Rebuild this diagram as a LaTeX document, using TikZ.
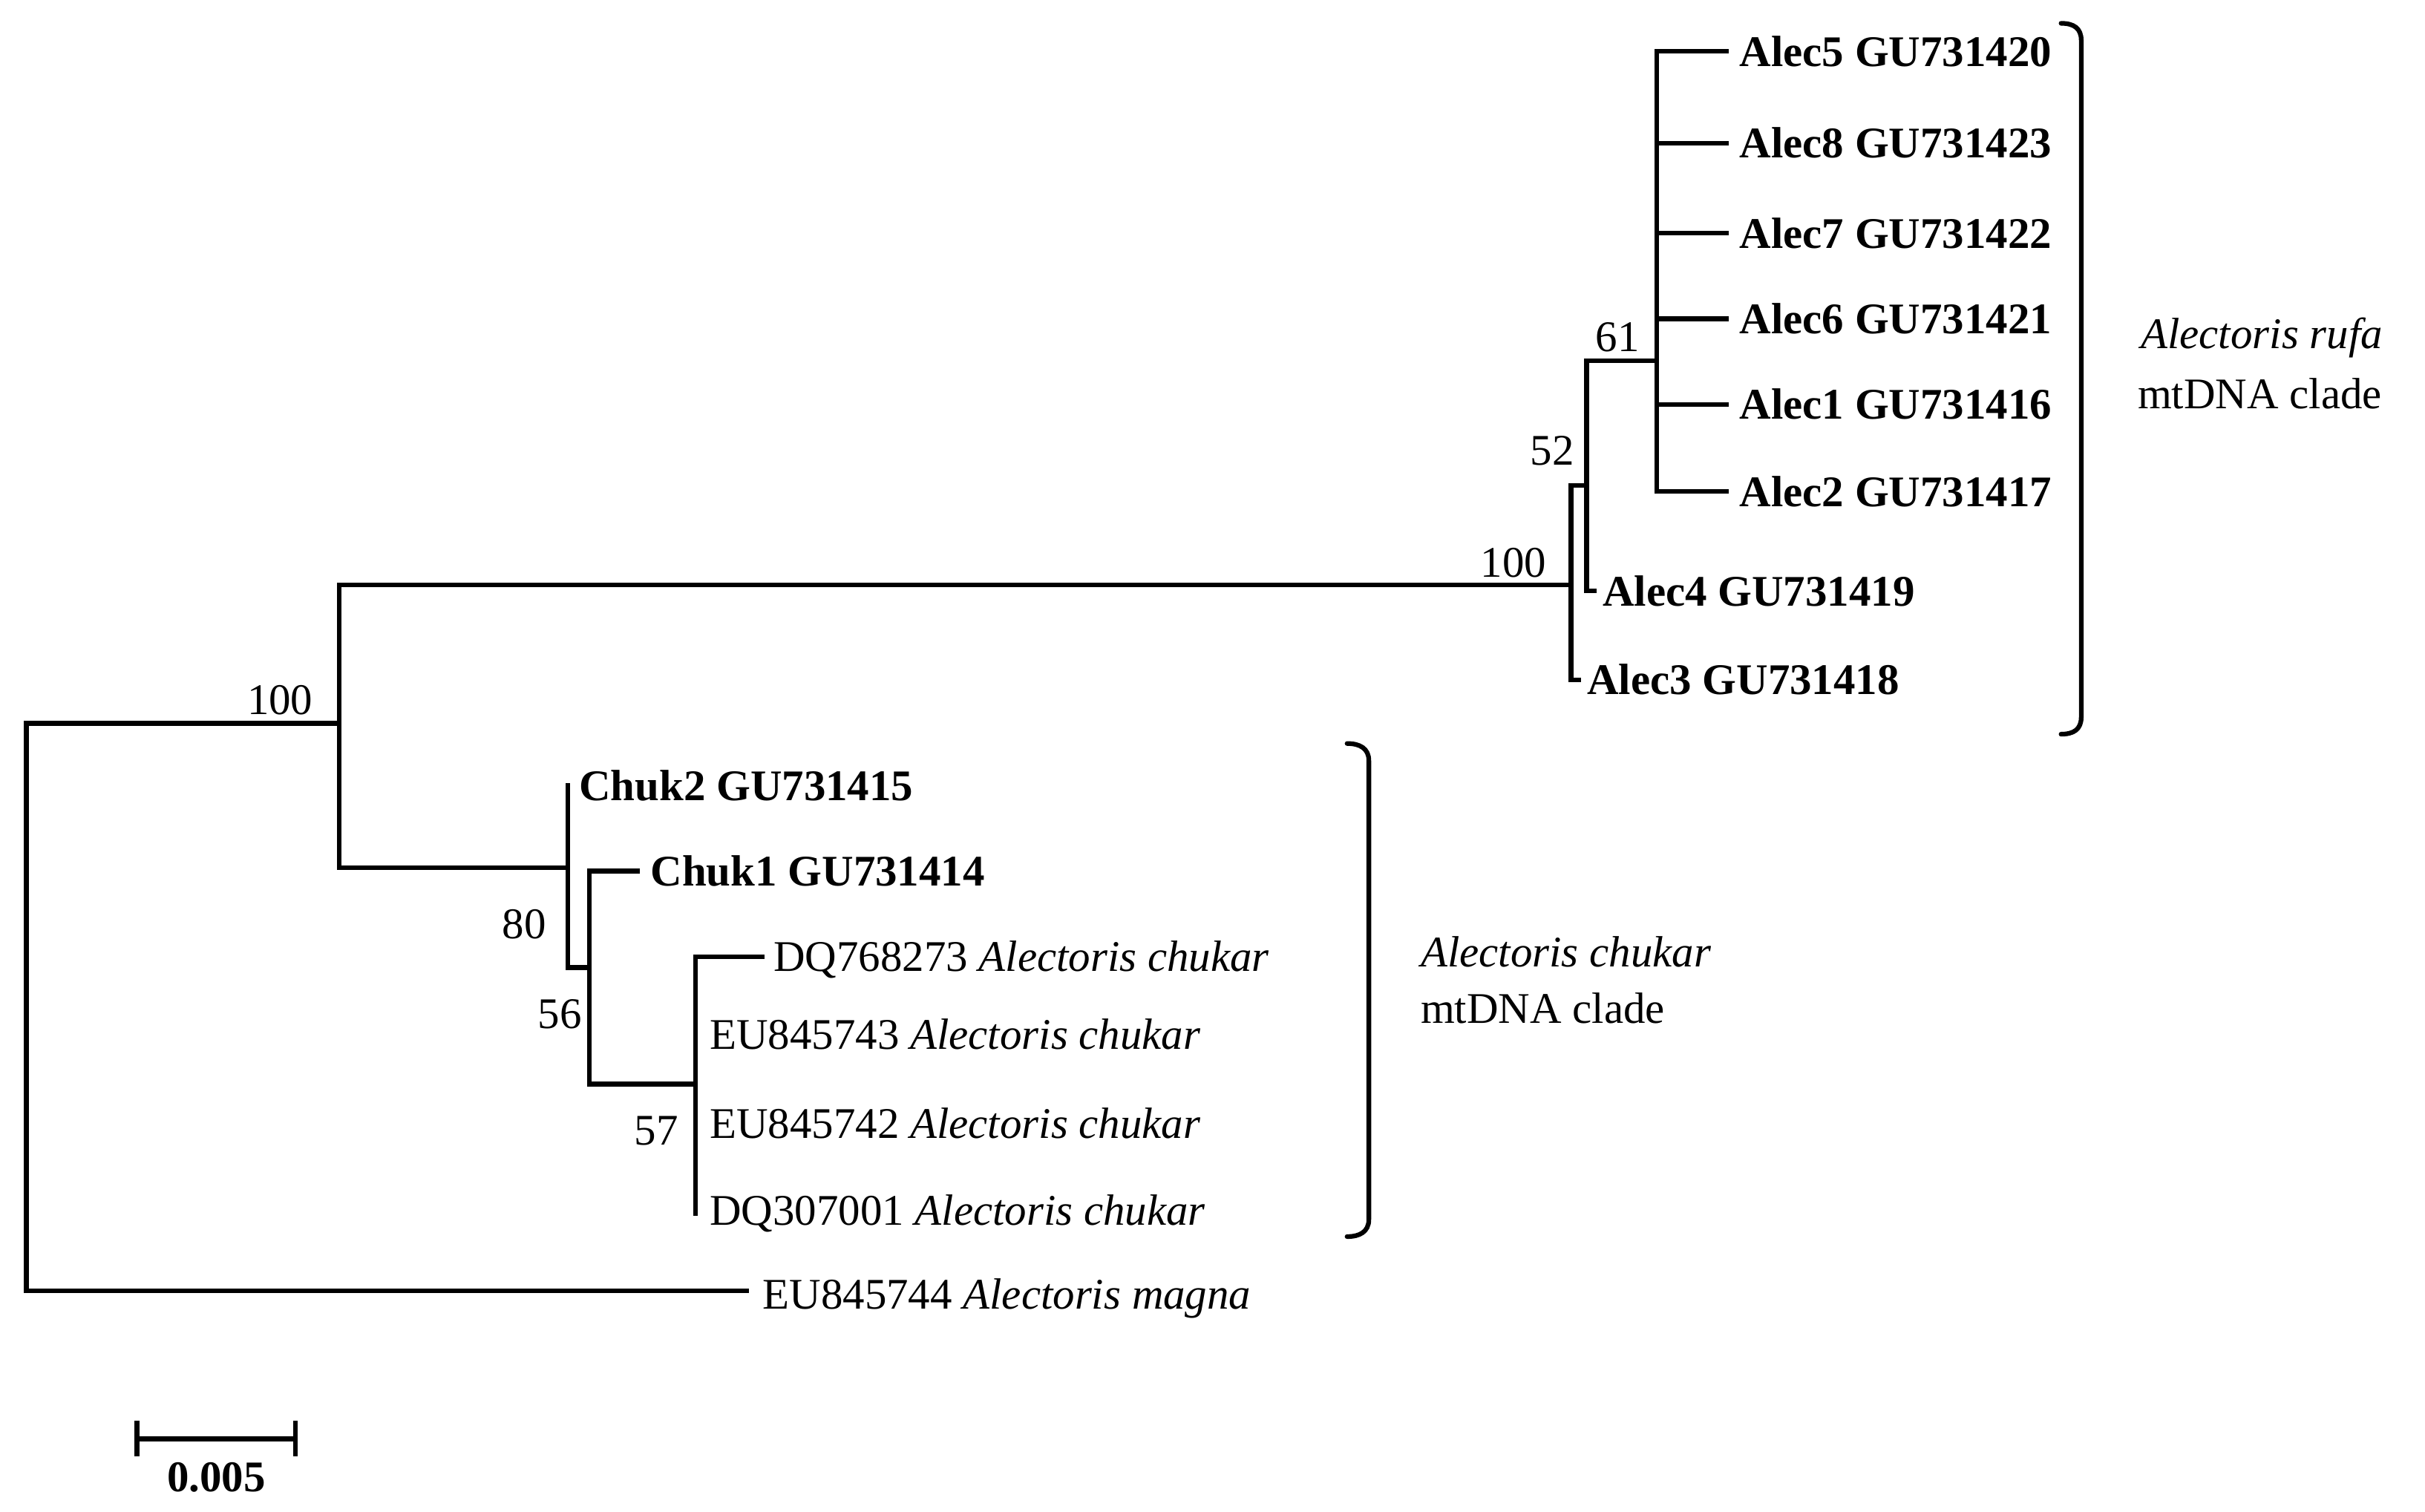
\documentclass[tikz,border=0pt]{standalone}
\usepackage{fontspec}
\setmainfont{Liberation Serif}
\begin{document}
\begin{tikzpicture}[x=0.02cm,y=-0.02cm,
  br/.style={line width=1.7pt,line cap=rect},
  lf/.style={anchor=west,inner sep=0pt,font=\fontsize{16}{18}\selectfont\bfseries},
  lfn/.style={anchor=west,inner sep=0pt,font=\fontsize{16}{18}\selectfont},
  bs/.style={inner sep=0pt,font=\fontsize{16}{18}\selectfont},
  cl/.style={line width=1.7pt,line cap=round,line join=round}]
\useasboundingbox (0,0) rectangle (1559,972);
% internal coordinates
\coordinate (r1) at (17,465); \coordinate (r2) at (17,830);
\coordinate (n1a) at (218,376); \coordinate (n1b) at (218,558);
\coordinate (Aa) at (1010,312); \coordinate (Ab) at (1010,437); \coordinate (Am) at (1010,376);
\coordinate (Ba) at (1020,232); \coordinate (Bb) at (1020,380); \coordinate (Bm) at (1020,312);
\coordinate (Ca) at (1065,33); \coordinate (Cb) at (1065,316); \coordinate (Cm) at (1065,232);
\coordinate (Da) at (365,505); \coordinate (Db) at (365,622); \coordinate (Dm) at (365,558);
\coordinate (Ea) at (379,560); \coordinate (Eb) at (379,697); \coordinate (Em) at (379,622);
\coordinate (Fa) at (447,615); \coordinate (Fb) at (447,780); \coordinate (Fm) at (447,697);
% leaves
\node[lf] (a5) at (1118,33) {Alec5 GU731420};
\node[lf] (a8) at (1118,92) {Alec8 GU731423};
\node[lf] (a7) at (1118,150) {Alec7 GU731422};
\node[lf] (a6) at (1118,205) {Alec6 GU731421};
\node[lf] (a1) at (1118,260) {Alec1 GU731416};
\node[lf] (a2) at (1118,316) {Alec2 GU731417};
\node[lf] (a4) at (1030,380) {Alec4 GU731419};
\node[lf] (a3) at (1020,437) {Alec3 GU731418};
\node[lf] (c2) at (372,505) {Chuk2 GU731415};
\node[lf] (c1) at (418,560) {Chuk1 GU731414};
\node[lfn] (d7) at (497,617) {DQ768273 \textit{Alectoris chukar}};
\node[lfn] (e3) at (456,665) {EU845743 \textit{Alectoris chukar}};
\node[lfn] (e2) at (456,722) {EU845742 \textit{Alectoris chukar}};
\node[lfn] (d3) at (456,780) {DQ307001 \textit{Alectoris chukar}};
\node[lfn] (mg) at (490,835) {EU845744 \textit{Alectoris magna}};
% branches
\draw[br] (r1) -- (r2);
\draw[br] (r1) -- (n1a |- r1);
\draw[br] (r2) -- ([xshift=-10*0.02cm]mg.west |- r2);
\draw[br] (n1a) -- (n1b);
\draw[br] (n1a) -- (Am);
\draw[br] (n1b) -- (Dm);
\draw[br] (Aa) -- (Ab);
\draw[br] (Ab) -- ([xshift=-5*0.02cm]a3.west |- Ab);
\draw[br] (Aa) -- (Bm);
\draw[br] (Ba) -- (Bb);
\draw[br] (Bb) -- ([xshift=-5*0.02cm]a4.west |- Bb);
\draw[br] (Ba) -- (Cm);
\draw[br] (Ca) -- (Cb);
\foreach \l/\y in {a5/33,a8/92,a7/150,a6/205,a1/260,a2/316}
  \draw[br] (1065,\y) -- ([xshift=-8*0.02cm]\l.west);
\draw[br] (Da) -- (Db);
\draw[br] (Db) -- (Em);
\draw[br] (Ea) -- (Eb);
\draw[br] (Ea) -- ([xshift=-8*0.02cm]c1.west);
\draw[br] (Eb) -- (Fm);
\draw[br] (Fa) -- (Fb);
\draw[br] (Fa) -- ([xshift=-7*0.02cm]d7.west |- Fa);
% bootstrap
\node[bs] (b1) at (180,450) {100};
\node[bs] (b2) at (973,362) {100};
\node[bs] (b3) at (998,290) {52};
\node[bs] (b4) at (1040,217) {61};
\node[bs] (b5) at (337,594) {80};
\node[bs] (b6) at (360,652) {56};
\node[bs] (b7) at (422,727) {57};
% clade brackets
\draw[cl] (1325,15) .. controls (1333,15) and (1338,18) .. (1338,26) -- (1338,461) .. controls (1338,469) and (1333,472) .. (1325,472);
\draw[cl] (866,478) .. controls (874,478) and (880,481) .. (880,489) -- (880,784) .. controls (880,792) and (874,795) .. (866,795);
\node[bs,anchor=west] (rl1) at (1376,217) {\textit{Alectoris rufa}};
\node[bs,anchor=west] (rl2) at (1374,253) {mtDNA clade};
\node[bs,anchor=west] (cl1) at (913,612) {\textit{Alectoris chukar}};
\node[bs,anchor=west] (cl2) at (913,648) {mtDNA clade};
% scale bar
\coordinate (s1) at (88,925); \coordinate (s2) at (190,925);
\draw[br] (s1) -- (s2);
\draw[br] (88,915) -- (88,935);
\draw[br] (190,915) -- (190,935);
\node[bs,font=\fontsize{16}{18}\selectfont\bfseries] (sl) at (139,950) {0.005};
\end{tikzpicture}
\end{document}
